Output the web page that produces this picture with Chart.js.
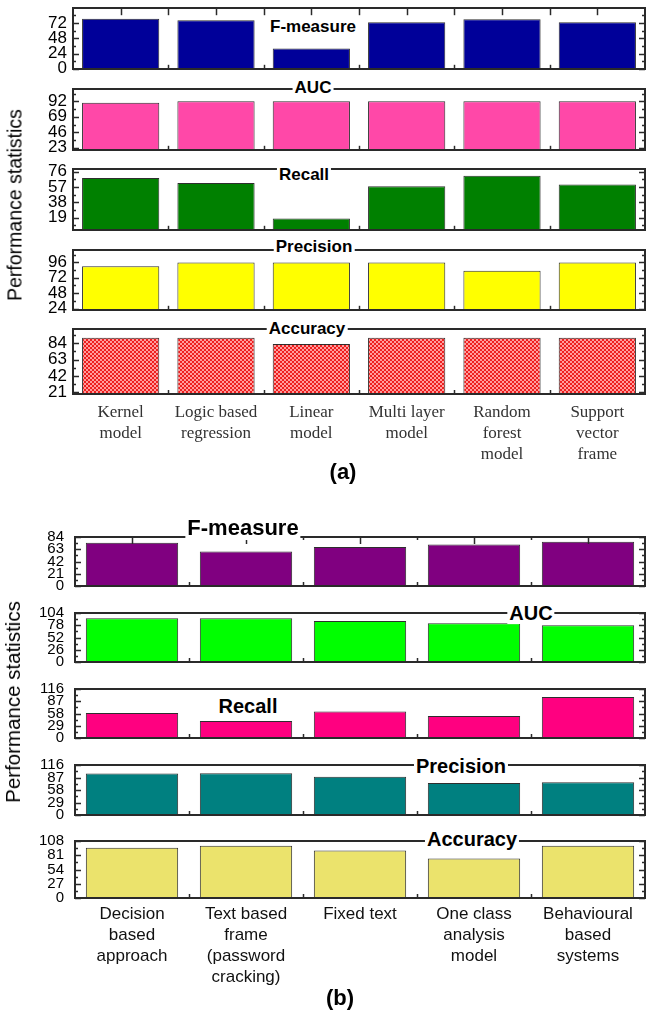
<!DOCTYPE html>
<html>
<head>
<meta charset="utf-8">
<script src="https://cdn.jsdelivr.net/npm/chart.js@4.4.0/dist/chart.umd.min.js"></script>
<style>
  body { margin: 0; background: #fff; width: 653px; height: 1023px; position: relative; overflow: hidden;
         font-family: "Liberation Sans", Arial, sans-serif; }
  canvas { position: absolute; left: 0; }
  .ttl { position: absolute; transform: translate(-50%, -50%); white-space: nowrap; font-weight: bold;
         background: #fff; padding: 1px 2px; line-height: 1; color: #000; }
  .ylab { position: absolute; transform: translate(-50%, -50%) rotate(-90deg); white-space: nowrap; color: #000; }
  .tag { position: absolute; transform: translate(-50%, -50%); font-weight: bold; font-size: 22px; color: #000; }
</style>
</head>
<body>
<script>
// ---- data ----
const catsA = [["Kernel", "model"], ["Logic based", "regression"], ["Linear", "model"],
               ["Multi layer", "model"], ["Random", "forest", "model"], ["Support", "vector", "frame"]];
const fMeasureA = [79, 76.5, 32, 73.5, 78, 73.5];
const aucA = [90, 92, 92, 92, 92, 92];
const recallA = [68, 62, 18, 58, 71, 60];
const precisionA = [90, 96, 96, 96, 83, 96];
const accuracyA = [91, 91, 83, 91, 91, 91];

const fMeasureTicksA = [0, 24, 48, 72];
const aucTicksA = [23, 46, 69, 92];
const recallTicksA = [19, 38, 57, 76];
const precisionTicksA = [24, 48, 72, 96];
const accuracyTicksA = [21, 42, 63, 84];

const catsB = [["Decision", "based", "approach"], ["Text based", "frame", "(password", "cracking)"],
               ["Fixed text"], ["One class", "analysis", "model"], ["Behavioural", "based", "systems"]];
const fMeasureB = [74, 59, 67, 71, 76];
const aucB = [93, 93, 87, 82, 78];
const recallB = [59, 40, 63, 52, 97];
const precisionB = [96, 97, 89, 74, 76];
const accuracyB = [95, 99, 90, 75, 99];

const fMeasureTicksB = [0, 21, 42, 63, 84];
const aucTicksB = [0, 26, 52, 78, 104];
const recallTicksB = [0, 29, 58, 87, 116];
const precisionTicksB = [0, 29, 58, 87, 116];
const accuracyTicksB = [0, 27, 54, 81, 108];

const yTitle = "Performance statistics";

// red/pink checker fill used for the accuracy bars of panel (a)
function checker() {
  const c = document.createElement("canvas");
  c.width = 4; c.height = 4;
  const g = c.getContext("2d");
  g.fillStyle = "#ff9c9c"; g.fillRect(0, 0, 4, 4);
  g.fillStyle = "#ee1e1e"; g.fillRect(0, 0, 2, 2); g.fillRect(2, 2, 2, 2);
  return g.createPattern(c, "repeat");
}

// box frame + inward ticks, drawn the way the original plotting tool does
const framePlugin = {
  id: "frame",
  afterDatasetsDraw(chart, args, o) {
    const { ctx, chartArea: a } = chart;
    const x = chart.scales.x, y = chart.scales.y;
    ctx.save();
    ctx.strokeStyle = "#2a2a2a";
    ctx.lineWidth = 1.5;
    const vals = y.ticks.map(t => t.value);
    const half = (vals[1] - vals[0]) / 2;
    for (let k = -4; k < 20; k++) {
      const v = vals[0] + k * half;
      if (v < y.min - 0.01 || v > y.max + 0.01) continue;
      const py = Math.round(y.getPixelForValue(v)) + 0.5;
      const len = k % 2 === 0 ? 6 : 3;
      ctx.beginPath();
      ctx.moveTo(a.left, py); ctx.lineTo(a.left + len, py);
      ctx.moveTo(a.right, py); ctx.lineTo(a.right - len, py);
      ctx.stroke();
    }
    const n = x.ticks.length, w = a.width / n;
    for (let i = 1; i < n; i++) {
      const px = Math.round(a.left + i * w) + 0.5;
      ctx.beginPath(); ctx.moveTo(px, a.bottom); ctx.lineTo(px, a.bottom - 4); ctx.stroke();
    }
    if (o.top) {
      for (let i = 1; i < 2 * n; i++) {
        const px = Math.round(a.left + i * w / 2) + 0.5;
        const len = i % 2 ? o.top[0] : o.top[1];
        ctx.beginPath(); ctx.moveTo(px, a.top); ctx.lineTo(px, a.top + len); ctx.stroke();
      }
    }
    ctx.lineWidth = 2;
    ctx.strokeRect(Math.round(a.left), Math.round(a.top), Math.round(a.width), Math.round(a.height));
    ctx.restore();
  }
};

const PAD = 12;
const W = 653;

function drawPanel(p) {
  p.rows.forEach((r, i) => {
    const last = i === p.rows.length - 1;
    const h = (r.bottom - r.top) + PAD * 2 + (last ? p.xh - PAD : 0);
    const cv = document.createElement("canvas");
    cv.width = W; cv.height = h;
    cv.style.top = (r.top - PAD) + "px";
    cv.style.width = W + "px"; cv.style.height = h + "px";
    document.body.appendChild(cv);

    new Chart(cv, {
      type: "bar",
      data: {
        labels: p.cats,
        datasets: [{
          data: r.data,
          backgroundColor: r.color,
          borderColor: "#2e2e2e",
          borderWidth: 1,
          barPercentage: 0.81,
          categoryPercentage: 1
        }]
      },
      options: {
        responsive: false,
        animation: false,
        devicePixelRatio: 1,
        layout: { padding: { top: PAD, bottom: last ? 0 : PAD, left: 0, right: W - p.right } },
        plugins: {
          legend: { display: false },
          tooltip: { enabled: false },
          frame: { top: i === 0 ? p.topTicks : null }
        },
        scales: {
          x: {
            display: last,
            grid: { display: false, drawTicks: false },
            border: { display: false },
            ticks: { autoSkip: false, maxRotation: 0, padding: p.xPad, font: p.xFont, color: p.xColor },
            afterFit: s => { s.height = last ? p.xh : 0; }
          },
          y: {
            min: r.min, max: r.max, beginAtZero: false,
            grid: { display: false, drawTicks: false },
            border: { display: false },
            ticks: { padding: p.yPad, font: p.yFont, color: "#000", autoSkip: false },
            afterBuildTicks: s => { s.ticks = r.ticks.map(v => ({ value: v })); },
            afterFit: s => { s.width = p.left; }
          }
        }
      },
      plugins: [framePlugin]
    });
  });

  // subplot names, drawn over the frame with a white patch like the original
  p.rows.forEach(r => {
    const d = document.createElement("div");
    d.className = "ttl";
    d.textContent = r.name;
    d.style.left = r.title[0] + "px";
    d.style.top = r.title[1] + "px";
    d.style.fontSize = (r.title[2] || p.titleSize) + "px";
    document.body.appendChild(d);
  });

  const yl = document.createElement("div");
  yl.className = "ylab";
  yl.textContent = yTitle;
  yl.style.left = p.yLabel[0] + "px";
  yl.style.top = p.yLabel[1] + "px";
  yl.style.fontSize = p.yLabel[2] + "px";
  document.body.appendChild(yl);

  const tg = document.createElement("div");
  tg.className = "tag";
  tg.textContent = p.tag;
  tg.style.left = p.tagPos[0] + "px";
  tg.style.top = p.tagPos[1] + "px";
  document.body.appendChild(tg);
}

drawPanel({
  cats: catsA, left: 73, right: 645, xh: 80, xPad: 8, yPad: 6,
  xFont: { family: '"Liberation Serif", "Times New Roman", serif', size: 17, lineHeight: "21px" },
  xColor: "#333",
  yFont: { family: '"Liberation Sans", Arial, sans-serif', size: 17 },
  topTicks: [7, 7], titleSize: 17,
  yLabel: [15, 205, 19.5], tag: "(a)", tagPos: [343, 472],
  rows: [
    { name: "F-measure", data: fMeasureA, ticks: fMeasureTicksA, min: 0, max: 95.5, top: 4, bottom: 73, color: "#000099", title: [313, 26] },
    { name: "AUC", data: aucA, ticks: aucTicksA, min: 20, max: 110, top: 85, bottom: 154, color: "#ff48a8", title: [313, 87] },
    { name: "Recall", data: recallA, ticks: recallTicksA, min: 4, max: 79, top: 165, bottom: 234, color: "#008000", title: [304, 174] },
    { name: "Precision", data: precisionA, ticks: precisionTicksA, min: 22, max: 115, top: 246, bottom: 314, color: "#ffff00", title: [314, 246] },
    { name: "Accuracy", data: accuracyA, ticks: accuracyTicksA, min: 19, max: 102, top: 325, bottom: 394, color: checker(), title: [307, 328] }
  ]
});

drawPanel({
  cats: catsB, left: 75, right: 645, xh: 96, xPad: 6, yPad: 11,
  xFont: { family: '"Liberation Sans", Arial, sans-serif', size: 17, lineHeight: "21px" },
  xColor: "#111",
  yFont: { family: '"Liberation Sans", Arial, sans-serif', size: 15 },
  topTicks: [7, 3], titleSize: 20,
  yLabel: [13, 702, 20.5], tag: "(b)", tagPos: [340, 998],
  rows: [
    { name: "F-measure", data: fMeasureB, ticks: fMeasureTicksB, min: 0, max: 84, top: 529, bottom: 594, color: "#800080", title: [243, 528, 22] },
    { name: "AUC", data: aucB, ticks: aucTicksB, min: 0, max: 104, top: 605, bottom: 670, color: "#00ff00", title: [531, 613] },
    { name: "Recall", data: recallB, ticks: recallTicksB, min: 0, max: 116, top: 681, bottom: 746, color: "#ff0080", title: [248, 706] },
    { name: "Precision", data: precisionB, ticks: precisionTicksB, min: 0, max: 116, top: 757, bottom: 823, color: "#008080", title: [461, 766] },
    { name: "Accuracy", data: accuracyB, ticks: accuracyTicksB, min: 0, max: 108, top: 833, bottom: 898, color: "#ebe36c", title: [472, 839] }
  ]
});
</script>
</body>
</html>
